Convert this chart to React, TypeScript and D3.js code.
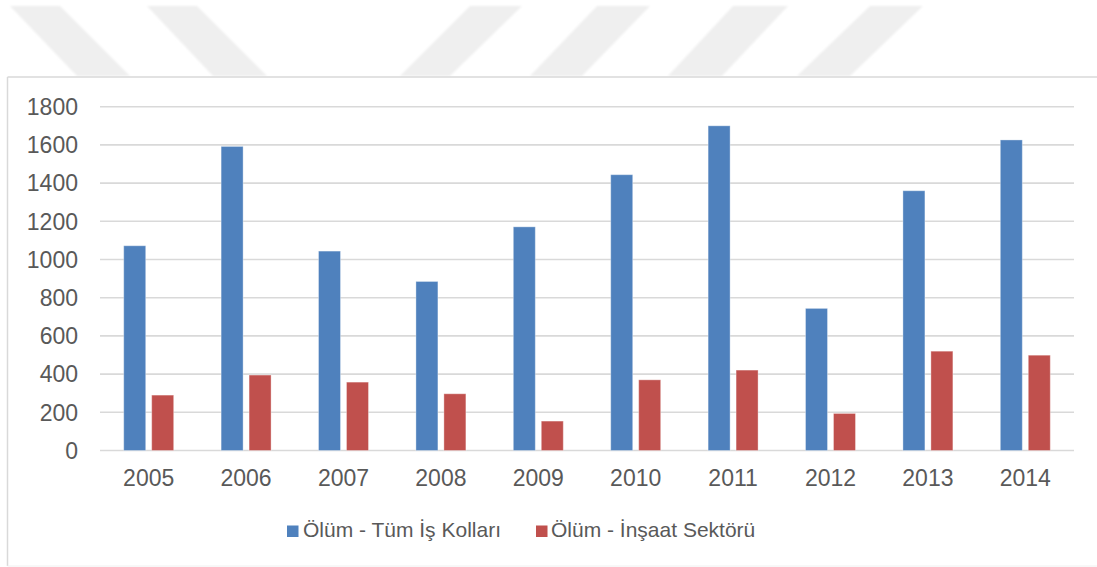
import React from 'react';
import * as d3 from 'd3';

const years = ['2005', '2006', '2007', '2008', '2009', '2010', '2011', '2012', '2013', '2014'];
const allSectors = [1072, 1592, 1044, 885, 1171, 1444, 1700, 744, 1360, 1626];
const construction = [290, 395, 358, 297, 154, 370, 421, 194, 520, 499];
const seriesNames = ['Ölüm - Tüm İş Kolları', 'Ölüm - İnşaat Sektörü'];
const seriesColors = ['#4f81bd', '#c0504d'];
const yTicks = [0, 200, 400, 600, 800, 1000, 1200, 1400, 1600, 1800];

// watermark stripes (decoration from the scanned page), top/bottom x spans
const stripesBack = [
  { t: [10, 60], b: [77, 130] },
  { t: [147, 197], b: [213, 267] },
];
const stripesFwd = [
  { t: [470, 522], b: [400, 450] },
  { t: [597, 650], b: [530, 582] },
  { t: [733, 788], b: [668, 722] },
  { t: [870, 923], b: [797, 850] },
];

const W = 1097;
const H = 567;
const margin = { top: 106.7, right: 23, bottom: 116.5, left: 100 };

const App: React.FC = () => {
  const innerW = W - margin.left - margin.right;
  const innerH = H - margin.top - margin.bottom;

  const x = d3.scaleBand<string>().domain(years).range([0, innerW]).paddingInner(0.487).paddingOuter(0.2435);
  const xs = d3.scaleBand<number>().domain([0, 1]).range([0, x.bandwidth()]).paddingInner(0.214);
  const y = d3.scaleLinear().domain([0, 1800]).range([innerH, 0]);

  const series = [allSectors, construction];
  const font = '"Liberation Sans", Arial, sans-serif';

  return (
    <svg width={W} height={H} style={{ position: 'absolute', left: 0, top: 0, background: '#fff' }} fontFamily={font}>
      <defs>
        <filter id="soft">
          <feGaussianBlur stdDeviation={0.8} />
        </filter>
      </defs>
      <g fill="#efefef" filter="url(#soft)">
        {[...stripesBack, ...stripesFwd].map((s, i) => (
          <polygon key={i} points={`${s.t[0]},6 ${s.t[1]},6 ${s.b[1]},76 ${s.b[0]},76`} />
        ))}
      </g>

      {/* chart frame */}
      <line x1={7.5} x2={W} y1={77} y2={77} stroke="#d9d9d9" strokeWidth={1.5} />
      <line x1={7.5} x2={7.5} y1={77} y2={566} stroke="#d9d9d9" strokeWidth={1.5} />
      <line x1={7.5} x2={W} y1={566} y2={566} stroke="#f0f0f0" strokeWidth={1} />

      <g transform={`translate(${margin.left},${margin.top})`}>
        {yTicks.map(t => (
          <g key={t}>
            <line x1={0} x2={innerW} y1={y(t)} y2={y(t)} stroke="#d9d9d9" strokeWidth={1.6} />
            <text x={-22} y={y(t)} dy="0.36em" textAnchor="end" fontSize={23} fill="#595959">{t}</text>
          </g>
        ))}

        {years.map((yr, i) => (
          <g key={yr} transform={`translate(${x(yr)},0)`}>
            {series.map((s, k) => (
              <rect
                key={k}
                x={xs(k)}
                y={y(s[i])}
                width={xs.bandwidth()}
                height={innerH - y(s[i])}
                fill={seriesColors[k]}
                stroke="rgba(255,255,255,0.35)"
                strokeWidth={1}
              />
            ))}
          </g>
        ))}

        {years.map(yr => (
          <text key={yr} x={(x(yr) ?? 0) + x.bandwidth() / 2} y={innerH + 36} textAnchor="middle" fontSize={23} fill="#595959">{yr}</text>
        ))}
      </g>

      {/* legend */}
      <g transform="translate(287,537)">
        <rect x={0} y={-11.5} width={11.5} height={11.5} fill={seriesColors[0]} />
        <text x={16} y={0} fontSize={21} fill="#595959">{seriesNames[0]}</text>
        <rect x={249} y={-11.5} width={11.5} height={11.5} fill={seriesColors[1]} />
        <text x={264} y={0} fontSize={21} fill="#595959">{seriesNames[1]}</text>
      </g>
    </svg>
  );
};

export default App;
